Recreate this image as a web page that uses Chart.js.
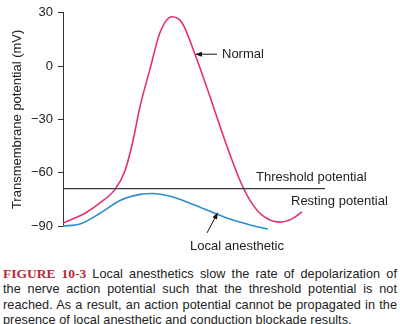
<!DOCTYPE html>
<html>
<head>
<meta charset="utf-8">
<script src="https://cdn.jsdelivr.net/npm/chart.js@4.4.1/dist/chart.umd.min.js"></script>
<style>
  html, body { margin: 0; padding: 0; background: #fff; }
  #wrap { width: 400px; height: 324px; position: relative; overflow: hidden; }
  canvas { display: block; }
  #caption {
    position: absolute; left: 3px; top: 266px; width: 394px;
    font: 12.7px "Liberation Sans", Arial, sans-serif; line-height: 15.4px;
    letter-spacing: 0.05px;
    color: #222;
  }
  #caption .ln { white-space: nowrap; text-align: justify; text-align-last: justify; }
  #caption .ln.last { text-align-last: left; }
  #caption b { font: bold 13.5px "Liberation Serif", serif; letter-spacing: 0; color: #b8293c; }
</style>
</head>
<body>
<div id="wrap">
  <canvas id="chart" width="400" height="258"></canvas>
  <div id="caption">
    <div class="ln"><b>FIGURE 10-3</b> Local anesthetics slow the rate of depolarization of</div>
    <div class="ln">the nerve action potential such that the threshold potential is not</div>
    <div class="ln">reached. As a result, an action potential cannot be propagated in the</div>
    <div class="ln last">presence of local anesthetic and conduction blockade results.</div>
  </div>
</div>
<script>
// time axis is arbitrary (no x axis shown)
const normalX = [0, 22, 37, 52, 62, 70, 77, 87, 97, 109, 119, 132, 147, 162, 177, 187, 199, 217, 229, 239];
const normalY = [-88.3, -82.8, -77, -69.4, -58.9, -42, -22.8, -1.7, 18.9, 27.8, 24.4, 6.7, -17.2, -42, -64.4, -75.6, -83.9, -87.8, -86, -82];

const localX = [0, 17, 37, 57, 77, 90, 107, 127, 147, 167, 187, 205];
const localY = [-90, -88.9, -82.8, -75.6, -72.2, -71.7, -73.3, -77.2, -81.7, -86.1, -89.4, -91.7];

const thresholdX = [0, 262];
const thresholdY = [-69, -69];

const yTicks = [30, 0, -30, -60, -90];

function pts(xs, ys) {
  return xs.map((x, i) => ({ x: x, y: ys[i] }));
}

// text labels and arrows, placed in data units
const labels = [
  { text: 'Normal', x: 159, y: 6.7 },
  { text: 'Threshold potential', x: 193, y: -62.8 },
  { text: 'Resting potential', x: 228, y: -76.1 },
  { text: 'Local anesthetic', x: 127, y: -101.7 }
];
const arrows = [
  { from: [154, 6.7], to: [132, 6.7] },
  { from: [144, -93.9], to: [155, -82.2] }
];

const labelPlugin = {
  id: 'labels',
  afterDatasetsDraw(chart) {
    const ctx = chart.ctx, xs = chart.scales.x, ys = chart.scales.y;
    ctx.save();
    ctx.fillStyle = '#222';
    ctx.font = '13px "Liberation Sans", Arial, sans-serif';
    ctx.textBaseline = 'middle';
    labels.forEach(l => {
      ctx.fillText(l.text, xs.getPixelForValue(l.x), ys.getPixelForValue(l.y));
    });
    ctx.strokeStyle = '#111';
    ctx.lineWidth = 1;
    arrows.forEach(a => {
      const x1 = xs.getPixelForValue(a.from[0]), y1 = ys.getPixelForValue(a.from[1]);
      const x2 = xs.getPixelForValue(a.to[0]), y2 = ys.getPixelForValue(a.to[1]);
      const ang = Math.atan2(y2 - y1, x2 - x1);
      ctx.beginPath();
      ctx.moveTo(x1, y1);
      ctx.lineTo(x2 - 5 * Math.cos(ang), y2 - 5 * Math.sin(ang));
      ctx.stroke();
      ctx.beginPath();
      ctx.moveTo(x2, y2);
      ctx.lineTo(x2 - 7 * Math.cos(ang) + 2.5 * Math.sin(ang), y2 - 7 * Math.sin(ang) - 2.5 * Math.cos(ang));
      ctx.lineTo(x2 - 7 * Math.cos(ang) - 2.5 * Math.sin(ang), y2 - 7 * Math.sin(ang) + 2.5 * Math.cos(ang));
      ctx.closePath();
      ctx.fillStyle = '#111';
      ctx.fill();
    });
    ctx.restore();
  }
};

new Chart(document.getElementById('chart'), {
  type: 'line',
  data: {
    datasets: [
      {
        label: 'Threshold potential',
        data: pts(thresholdX, thresholdY),
        borderColor: '#3a3a3a',
        borderWidth: 1.2,
        pointRadius: 0,
        clip: 20
      },
      {
        label: 'Normal',
        data: pts(normalX, normalY),
        borderColor: '#e2326c',
        borderWidth: 1.6,
        pointRadius: 0,
        cubicInterpolationMode: 'monotone',
        clip: 20
      },
      {
        label: 'Local anesthetic',
        data: pts(localX, localY),
        borderColor: '#2b8fcd',
        borderWidth: 1.6,
        pointRadius: 0,
        cubicInterpolationMode: 'monotone',
        clip: 20
      }
    ]
  },
  options: {
    responsive: false,
    animation: false,
    layout: { padding: { top: 10, bottom: 32, right: 67, left: 0 } },
    plugins: { legend: { display: false }, tooltip: { enabled: false } },
    scales: {
      x: { type: 'linear', min: 0, max: 270, display: false },
      y: {
        min: -90, max: 30,
        afterFit(axis) { axis.width = 63; },
        afterBuildTicks(axis) { axis.ticks = yTicks.map(v => ({ value: v })); },
        border: { color: '#333', width: 1 },
        grid: { drawOnChartArea: false, drawTicks: true, tickLength: 5, color: '#333' },
        ticks: {
          color: '#222',
          padding: 5,
          font: { family: '"Liberation Sans", Arial, sans-serif', size: 13 },
          callback: v => String(v).replace('-', '\u2212')
        },
        title: {
          display: true,
          text: 'Transmembrane potential (mV)',
          color: '#222',
          padding: { top: 10, bottom: 0 },
          font: { family: '"Liberation Sans", Arial, sans-serif', size: 13 }
        }
      }
    }
  },
  plugins: [labelPlugin]
});
</script>
</body>
</html>
